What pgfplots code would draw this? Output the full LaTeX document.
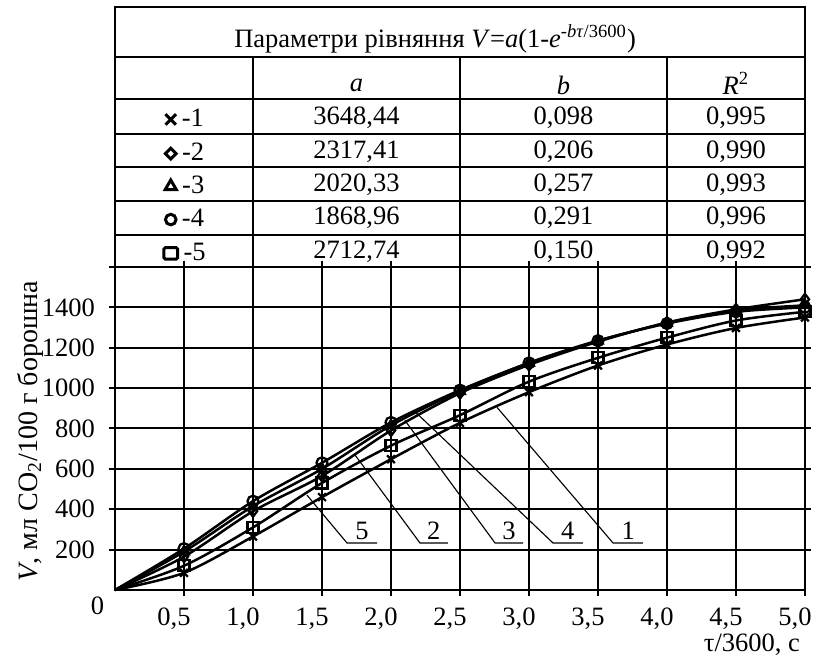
\documentclass[border=0pt]{standalone}
\usepackage{fontspec}
\setmainfont{Liberation Serif}
\usepackage{pgfplots}
\pgfplotsset{compat=1.18}
\usetikzlibrary{shapes.geometric}

\pgfplotstableread{
x    c1   c2   c3   c4   c5
0    0    0    0    0    0
0.5  85   165  190  205  120
1.0  265  390  415  440  310
1.5  460  565  600  630  530
2.0  648  790  815  830  715
2.5  828  975  985  990  866
3.0  980  1115 1125 1125 1032
3.5  1112 1230 1235 1235 1150
4.0  1216 1325 1322 1320 1250
4.5  1298 1390 1385 1378 1335
5.0  1350 1440 1410 1400 1378
}\datatable

\newcommand{\mx}{\tikz[baseline=-0.6ex]{\draw[line width=1.2pt] (-2.1pt,-2.1pt)--(2.1pt,2.1pt) (-2.1pt,2.1pt)--(2.1pt,-2.1pt);}}
\newcommand{\mdia}{\tikz[baseline=-0.6ex]{\node[draw,diamond,line width=1.2pt,inner sep=1.2pt]{};}}
\newcommand{\mtri}{\tikz[baseline=-0.6ex]{\node[draw,regular polygon,regular polygon sides=3,line width=1.2pt,inner sep=0.9pt]{};}}
\newcommand{\mcir}{\tikz[baseline=-0.6ex]{\node[draw,circle,line width=1.2pt,inner sep=1.5pt]{};}}
\newcommand{\msq}{\tikz[baseline=-0.6ex]{\node[draw,rectangle,rounded corners=0.6pt,line width=1.2pt,minimum width=5.5pt,minimum height=4.6pt,inner sep=0pt]{};}}
\newcommand{\tbl}{\fontsize{10.6}{12.5}\selectfont}

\begin{document}
\begin{tikzpicture}[font=\fontsize{10.6}{12.5}\selectfont]
\begin{axis}[
  scale only axis, width=276pt, height=129.2pt,
  xmin=0, xmax=5, ymin=0, ymax=1600,
  clip=false,
  xtick={0.5,1,1.5,2,2.5,3,3.5,4,4.5,5},
  xticklabels={{0,5},{1,0},{1,5},{2,0},{2,5},{3,0},{3,5},{4,0},{4,5},{5,0}},
  ytick={200,400,600,800,1000,1200,1400,1600},
  yticklabels={200,400,600,800,1000,1200,1400,},
  x tick label style={xshift=-4pt, yshift=-1pt},
  y tick label style={xshift=-2pt},
  grid=major,
  grid style={black, line width=0.8pt},
  axis line style={black, line width=0.9pt},
  tick align=outside, major tick length=2.5pt,
  tick style={black, line width=0.8pt},
  every axis plot/.append style={black, line width=1pt, smooth, tension=0.5,
     mark options={solid, line width=0.9pt}, mark size=2.2pt},
]
\addplot[mark=x, mark indices={2,3,4,5,6,7,8,9,10,11}] table[x=x,y=c1]{\datatable};
\addplot[mark=diamond, mark indices={2,3,4,5,6,7,8,9,10,11}] table[x=x,y=c2]{\datatable};
\addplot[mark=triangle, mark indices={2,3,4,5,6,7,8,9,10,11}] table[x=x,y=c3]{\datatable};
\addplot[mark=o, mark indices={2,3,4,5,6,7,8,9,10,11}] table[x=x,y=c4]{\datatable};
\addplot[mark=square, mark indices={2,3,4,5,6,7,8,9,10,11}] table[x=x,y=c5]{\datatable};

% leaders
\draw[line width=0.45pt] (axis cs:1.391,470) -- (axis cs:1.681,233) -- (axis cs:1.899,233);
\node[anchor=south, inner sep=1pt] at (axis cs:1.79,233) {5};
\draw[line width=0.45pt] (axis cs:1.739,669) -- (axis cs:2.210,233) -- (axis cs:2.413,233);
\node[anchor=south, inner sep=1pt] at (axis cs:2.31,233) {2};
\draw[line width=0.45pt] (axis cs:2.101,840) -- (axis cs:2.754,233) -- (axis cs:2.957,233);
\node[anchor=south, inner sep=1pt] at (axis cs:2.855,233) {3};
\draw[line width=0.45pt] (axis cs:2.167,888) -- (axis cs:3.174,233) -- (axis cs:3.391,233);
\node[anchor=south, inner sep=1pt] at (axis cs:3.28,233) {4};
\draw[line width=0.45pt] (axis cs:2.768,905) -- (axis cs:3.609,233) -- (axis cs:3.826,233);
\node[anchor=south, inner sep=1pt] at (axis cs:3.72,233) {1};

% origin label and axis labels
\node at (axis cs:0,0) [xshift=-7pt, yshift=-6.5pt] {0};
\node[anchor=east] at (rel axis cs:1,0) [yshift=-22pt, xshift=1.5pt] {τ/3600, с};
\node[rotate=90, font=\fontsize{11.2}{13}\selectfont] at (rel axis cs:0,0.5) [xshift=-1pt, yshift=34pt] {\textit{V}, мл CO\textsubscript{2}/100 г борошна};

% table
\draw[line width=0.8pt] (axis cs:0,1600) rectangle (axis cs:5,2887);
\draw[line width=0.8pt] (axis cs:0,1758) -- (axis cs:5,1758);
\draw[line width=0.8pt] (axis cs:0,1927) -- (axis cs:5,1927);
\draw[line width=0.8pt] (axis cs:0,2095) -- (axis cs:5,2095);
\draw[line width=0.8pt] (axis cs:0,2258) -- (axis cs:5,2258);
\draw[line width=0.8pt] (axis cs:0,2430) -- (axis cs:5,2430);
\draw[line width=1pt] (axis cs:0,2640) -- (axis cs:5,2640);
\draw[line width=0.8pt] (axis cs:1,1600) -- (axis cs:1,2640);
\draw[line width=0.8pt] (axis cs:2.5,1600) -- (axis cs:2.5,2640);
\draw[line width=0.8pt] (axis cs:4,1600) -- (axis cs:4,2640);

\node[font=\tbl] at (axis cs:2.32,2730) {Параметри рівняння \textit{V}=\textit{a}(1-\textit{e}\textsuperscript{-\textit{bτ}/3600})};
\node[font=\tbl] at (axis cs:1.75,2500) {\textit{a}};
\node[font=\tbl] at (axis cs:3.25,2500) {\textit{b}};
\node[font=\tbl] at (axis cs:4.5,2510) {\textit{R}\textsuperscript{2}};

\node[font=\tbl] at (axis cs:0.5,2338) {\mx\,-1};
\node[font=\tbl] at (axis cs:0.5,2169) {\mdia\,-2};
\node[font=\tbl] at (axis cs:0.5,2006) {\mtri\,-3};
\node[font=\tbl] at (axis cs:0.5,1842) {\mcir\,-4};
\node[font=\tbl] at (axis cs:0.5,1674) {\msq\,-5};

\node[font=\tbl] at (axis cs:1.75,2338) {3648,44};
\node[font=\tbl] at (axis cs:1.75,2169) {2317,41};
\node[font=\tbl] at (axis cs:1.75,2006) {2020,33};
\node[font=\tbl] at (axis cs:1.75,1842) {1868,96};
\node[font=\tbl] at (axis cs:1.75,1674) {2712,74};

\node[font=\tbl] at (axis cs:3.25,2338) {0,098};
\node[font=\tbl] at (axis cs:3.25,2169) {0,206};
\node[font=\tbl] at (axis cs:3.25,2006) {0,257};
\node[font=\tbl] at (axis cs:3.25,1842) {0,291};
\node[font=\tbl] at (axis cs:3.25,1674) {0,150};

\node[font=\tbl] at (axis cs:4.5,2338) {0,995};
\node[font=\tbl] at (axis cs:4.5,2169) {0,990};
\node[font=\tbl] at (axis cs:4.5,2006) {0,993};
\node[font=\tbl] at (axis cs:4.5,1842) {0,996};
\node[font=\tbl] at (axis cs:4.5,1674) {0,992};

\coordinate (bbSW) at (axis cs:0,0);
\end{axis}
\pgfresetboundingbox
\useasboundingbox ([xshift=-46pt,yshift=-29.6pt]bbSW) rectangle ([xshift=281.6pt,yshift=236pt]bbSW);
\end{tikzpicture}
\end{document}
